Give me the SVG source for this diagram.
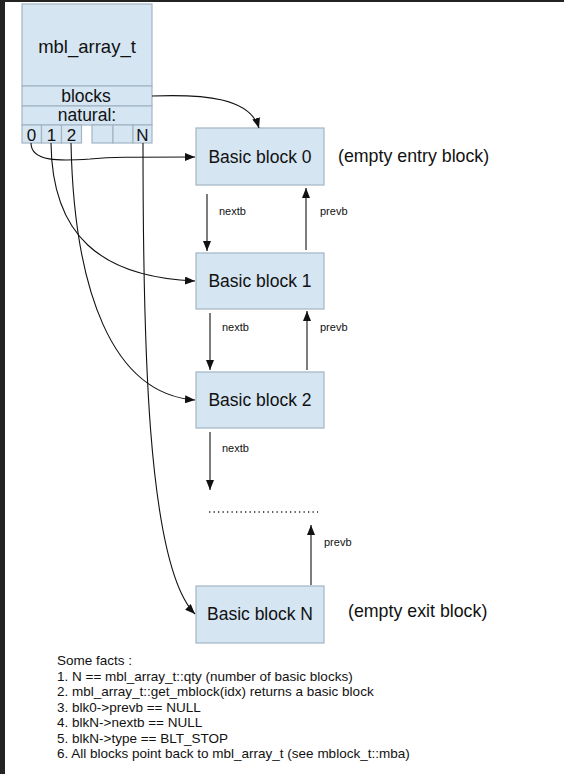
<svg xmlns="http://www.w3.org/2000/svg" width="564" height="774" viewBox="0 0 564 774">
<defs>
<style>
.box{fill:#d5e5f2;stroke:#a3b4c4;stroke-width:1.2}
.t{font-family:"Liberation Sans",Arial,sans-serif;fill:#111}
.big{font-size:17.5px}
.lbl{font-size:11px}
.fact{font-size:13.5px}
.cell{font-size:17px}
.c{fill:none;stroke:#111;stroke-width:1.1}
</style>
<marker id="ah" viewBox="0 0 10 8" refX="10" refY="4" markerWidth="10" markerHeight="8" markerUnits="userSpaceOnUse" orient="auto">
<path d="M0,0 L10,4 L0,8 Z" fill="#111"/>
</marker>
</defs>
<rect x="0" y="0" width="564" height="774" fill="#fff"/>
<rect x="0" y="0" width="5" height="774" fill="#232323"/>
<rect x="0" y="0" width="564" height="2" fill="#232323"/>

<g id="mbl_array_t">
<rect class="box" x="22" y="4" width="130" height="82"/>
<rect class="box" x="22" y="86" width="130" height="20"/>
<rect class="box" x="22" y="106" width="130" height="19"/>
<rect class="box" x="22" y="125" width="19.5" height="18"/>
<rect class="box" x="41.5" y="125" width="20" height="18"/>
<rect class="box" x="61.5" y="125" width="20" height="18"/>
<rect class="box" x="92" y="125" width="21" height="18"/>
<rect class="box" x="113" y="125" width="20" height="18"/>
<rect class="box" x="133" y="125" width="19" height="18"/>
<text class="t" font-size="18.5" x="87" y="53" text-anchor="middle">mbl_array_t</text>
<text class="t big" x="86" y="102" text-anchor="middle">blocks</text>
<text class="t big" x="87" y="121" text-anchor="middle">natural:</text>
<text class="t cell" x="31.5" y="140.5" text-anchor="middle">0</text>
<text class="t cell" x="51.5" y="140.5" text-anchor="middle">1</text>
<text class="t cell" x="71.5" y="140.5" text-anchor="middle">2</text>
<text class="t cell" x="142.5" y="140.5" text-anchor="middle">N</text>
</g>

<g id="block0">
<rect class="box" x="196" y="128" width="128" height="57"/>
<text class="t big" x="260" y="163" text-anchor="middle">Basic block 0</text>
</g>
<g id="block1">
<rect class="box" x="196" y="253" width="128" height="56"/>
<text class="t big" x="260" y="287" text-anchor="middle">Basic block 1</text>
</g>
<g id="block2">
<rect class="box" x="196" y="372" width="128" height="56"/>
<text class="t big" x="260" y="406" text-anchor="middle">Basic block 2</text>
</g>
<g id="blockN">
<rect class="box" x="196" y="586" width="128" height="57"/>
<text class="t big" x="260" y="620" text-anchor="middle">Basic block N</text>
</g>

<g id="notes">
<text class="t" font-size="17.8" x="338" y="162">(empty entry block)</text>
<text class="t" font-size="17.8" x="348" y="617">(empty exit block)</text>
<line x1="209" y1="512" x2="318" y2="512" stroke="#222" stroke-width="1.3" stroke-dasharray="1.3,3.2"/>
<text class="t fact" x="57" y="665">Some facts :</text>
<text class="t fact" x="57" y="680.5">1. N == mbl_array_t::qty (number of basic blocks)</text>
<text class="t fact" x="57" y="696">2. mbl_array_t::get_mblock(idx) returns a basic block</text>
<text class="t fact" x="57" y="711.5">3. blk0-&gt;prevb == NULL</text>
<text class="t fact" x="57" y="727">4. blkN-&gt;nextb == NULL</text>
<text class="t fact" x="57" y="742.5">5. blkN-&gt;type == BLT_STOP</text>
<text class="t fact" x="57" y="758">6. All blocks point back to mbl_array_t (see mblock_t::mba)</text>
</g>

<g id="connectors">
<path class="c" marker-end="url(#ah)" d="M152,96 C205,94 250,98 259,128"/>
<path class="c" marker-end="url(#ah)" d="M31,143 C31,162 60,161 90,159 C112,157 125,157 195,157"/>
<path class="c" marker-end="url(#ah)" d="M51,143 C52,235 100,277 195,281"/>
<path class="c" marker-end="url(#ah)" d="M71,143 C74,290 112,394 195,400"/>
<path class="c" marker-end="url(#ah)" d="M143,143 C143,330 146,565 195,614"/>

<line class="c" marker-end="url(#ah)" x1="207" y1="194" x2="207" y2="251"/>
<line class="c" marker-end="url(#ah)" x1="306" y1="250" x2="306" y2="188"/>
<line class="c" marker-end="url(#ah)" x1="210" y1="313" x2="210" y2="370"/>
<line class="c" marker-end="url(#ah)" x1="307" y1="370" x2="307" y2="311"/>
<line class="c" marker-end="url(#ah)" x1="210" y1="432" x2="210" y2="490"/>
<line class="c" marker-end="url(#ah)" x1="311" y1="585" x2="311" y2="525"/>

<text class="t lbl" x="219" y="215">nextb</text>
<text class="t lbl" x="320" y="215">prevb</text>
<text class="t lbl" x="222" y="331">nextb</text>
<text class="t lbl" x="320" y="331">prevb</text>
<text class="t lbl" x="222" y="452">nextb</text>
<text class="t lbl" x="324" y="546">prevb</text>
</g>
</svg>
